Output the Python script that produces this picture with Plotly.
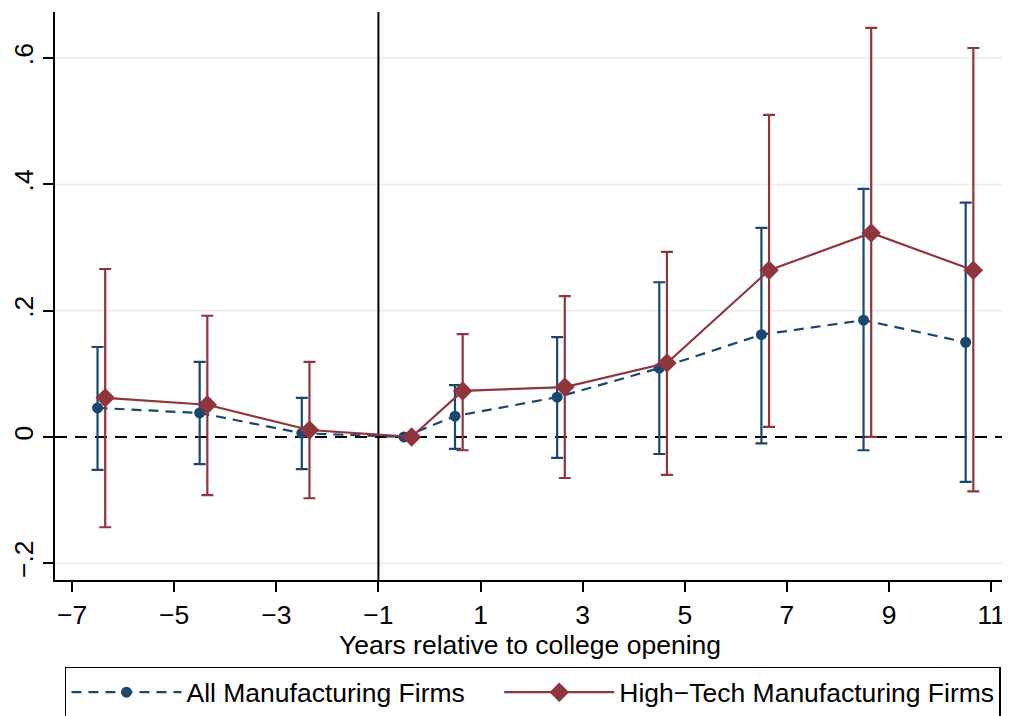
import plotly.graph_objects as go

# Event-study estimates
years_all = [-6.5, -4.5, -2.5, -0.5, 0.5, 2.5, 4.5, 6.5, 8.5, 10.5]
coef_all = [0.046, 0.038, 0.006, 0.0, 0.033, 0.063, 0.109, 0.162, 0.185, 0.150]
ci_hi_all = [0.1425, 0.119, 0.062, None, 0.082, 0.158, 0.245, 0.331, 0.393, 0.371]
ci_lo_all = [-0.052, -0.043, -0.051, None, -0.019, -0.033, -0.027, -0.010, -0.021, -0.071]

years_ht = [-6.35, -4.35, -2.35, -0.35, 0.65, 2.65, 4.65, 6.65, 8.65, 10.65]
coef_ht = [0.062, 0.051, 0.011, 0.0, 0.073, 0.079, 0.117, 0.264, 0.323, 0.264]
ci_hi_ht = [0.266, 0.192, 0.119, None, 0.163, 0.223, 0.293, 0.510, 0.648, 0.616]
ci_lo_ht = [-0.143, -0.092, -0.097, None, -0.021, -0.065, -0.060, 0.016, 0.0, -0.086]

x_ticks = [-7, -5, -3, -1, 1, 3, 5, 7, 9, 11]
x_tick_text = ["\u22127", "\u22125", "\u22123", "\u22121", "1", "3", "5", "7", "9", "11"]
y_ticks = [-0.2, 0, 0.2, 0.4, 0.6]
y_tick_text = ["\u2212.2", "0", ".2", ".4", ".6"]
event_line = -1

NAVY = "#1a476f"
MAROON = "#90353b"
FONT = "Liberation Sans, Arial, Helvetica, sans-serif"
FS = 26.5


def err(hi, c):
    return [None if h is None else h - v for h, v in zip(hi, c)]


def errm(lo, c):
    return [None if l is None else v - l for l, v in zip(lo, c)]


fig = go.Figure()
fig.add_trace(go.Scatter(
    x=years_all, y=coef_all, mode="lines+markers",
    name="All Manufacturing Firms" + "\u00a0" * 4,
    line=dict(color=NAVY, width=2.2, dash="10px,7px"),
    marker=dict(symbol="circle", size=11, color=NAVY),
    error_y=dict(type="data", symmetric=False, array=err(ci_hi_all, coef_all),
                 arrayminus=errm(ci_lo_all, coef_all), color=NAVY,
                 thickness=2.2, width=6),
))
fig.add_trace(go.Scatter(
    x=years_ht, y=coef_ht, mode="lines+markers",
    name="High\u2212Tech Manufacturing Firms",
    line=dict(color=MAROON, width=2.2),
    marker=dict(symbol="diamond", size=15, color=MAROON),
    error_y=dict(type="data", symmetric=False, array=err(ci_hi_ht, coef_ht),
                 arrayminus=errm(ci_lo_ht, coef_ht), color=MAROON,
                 thickness=2.2, width=6),
))

# light horizontal gridlines (not at zero, where the dashed reference line sits)
for v in y_ticks:
    if v != 0:
        fig.add_shape(type="line", xref="paper", yref="y", x0=0, x1=1, y0=v, y1=v,
                      line=dict(color="#ebebeb", width=1.5), layer="below")
fig.add_shape(type="line", xref="paper", yref="y", x0=0, x1=1, y0=0, y1=0,
              line=dict(color="black", width=2, dash="12px,8px"), layer="below")
fig.add_shape(type="line", xref="x", yref="paper", x0=event_line, x1=event_line,
              y0=0, y1=1, line=dict(color="black", width=2), layer="below")

fig.update_layout(
    width=1002, height=708,
    margin=dict(l=47, r=5, t=4, b=136, autoexpand=False),
    paper_bgcolor="white", plot_bgcolor="white",
    font=dict(family=FONT, size=FS, color="black"),
    showlegend=True,
    legend=dict(
        orientation="h", x=0.0105, xanchor="left", y=-0.153, yanchor="top",
        bordercolor="black", borderwidth=1.5, bgcolor="white",
        font=dict(size=FS), itemwidth=110, tracegroupgap=0,
    ),
    xaxis=dict(
        range=[-7.333, 11.27], tickmode="array", tickvals=x_ticks,
        ticktext=x_tick_text, ticks="outside", ticklen=10, tickwidth=1.5,
        tickcolor="black", showline=True, linecolor="black", linewidth=1.5,
        showgrid=False, zeroline=False, mirror=False,
        title=dict(text="Years relative to college opening", standoff=0,
                   font=dict(size=FS)),
        tickfont=dict(size=FS), automargin=False,
    ),
    yaxis=dict(
        range=[-0.2265, 0.673], tickmode="array", tickvals=y_ticks,
        ticktext=y_tick_text, ticks="outside", ticklen=10, tickwidth=1.5,
        tickcolor="black", showline=True, linecolor="black", linewidth=1.5,
        showgrid=False, zeroline=False,
        tickangle=-90, tickfont=dict(size=FS), automargin=False,
    ),
)

fig.write_html("out.html")
